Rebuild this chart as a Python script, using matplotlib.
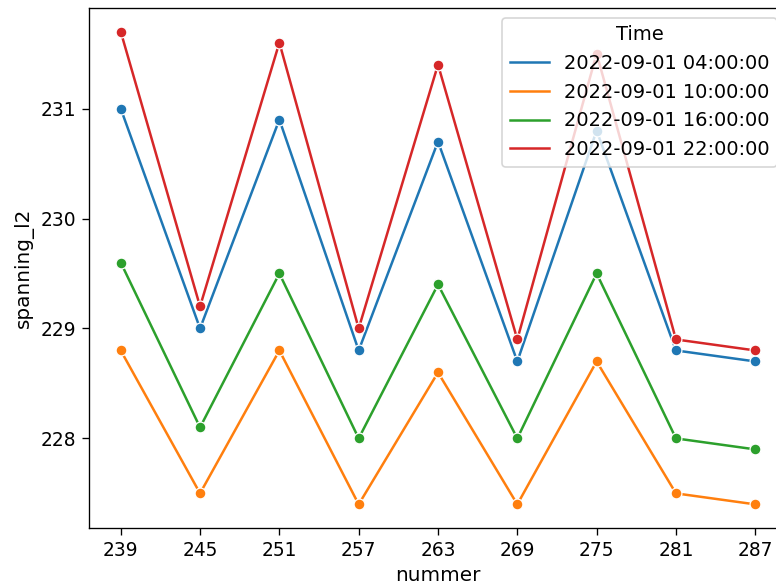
import matplotlib
matplotlib.use("Agg")
import matplotlib.pyplot as plt
from matplotlib.lines import Line2D
import pandas as pd
import seaborn as sns

nummer = [239, 245, 251, 257, 263, 269, 275, 281, 287]
times = ["2022-09-01 04:00:00", "2022-09-01 10:00:00",
         "2022-09-01 16:00:00", "2022-09-01 22:00:00"]
v_0400 = [231.0, 229.0, 230.9, 228.8, 230.7, 228.7, 230.8, 228.8, 228.7]
v_1000 = [228.8, 227.5, 228.8, 227.4, 228.6, 227.4, 228.7, 227.5, 227.4]
v_1600 = [229.6, 228.1, 229.5, 228.0, 229.4, 228.0, 229.5, 228.0, 227.9]
v_2200 = [231.7, 229.2, 231.6, 229.0, 231.4, 228.9, 231.5, 228.9, 228.8]

rows = []
for t, vals in zip(times, [v_0400, v_1000, v_1600, v_2200]):
    for n, v in zip(nummer, vals):
        rows.append({"nummer": n, "spanning_l2": v, "Time": t})
df = pd.DataFrame(rows)

fig = plt.figure(figsize=(776 / 120, 587 / 120), dpi=120)
# axes run slightly past the right edge, like the cropped original
ax = fig.add_axes([89 / 776, 1 - 528 / 587, (787 - 89) / 776, (528 - 8) / 587])
sns.lineplot(data=df, x="nummer", y="spanning_l2", hue="Time", marker="o",
             ax=ax, markersize=6.5, legend=False)
ax.set_xticks(nummer)
ax.set_yticks([228, 229, 230, 231])
ax.tick_params(labelsize=11.2, length=4)
ax.set_xlabel("nummer", fontsize=12)
ax.set_ylabel("spanning_l2", fontsize=12)

colors = sns.color_palette()[:4]
handles = [Line2D([], [], color=c, lw=1.5) for c in colors]
ax.legend(handles, times, title="Time", loc="upper right",
          fontsize=11.6, title_fontsize=11.6)

fig.savefig("out.png", dpi=120)
